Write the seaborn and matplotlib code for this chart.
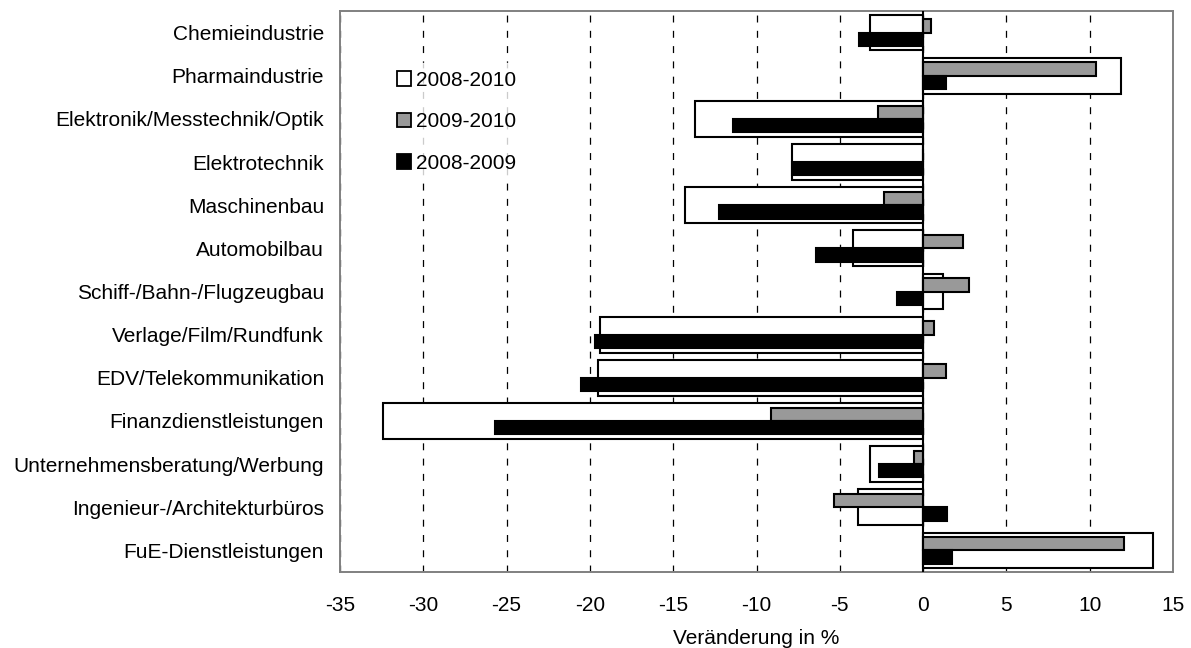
import pandas as pd
import numpy as np
import matplotlib
matplotlib.use("Agg")
import matplotlib.pyplot as plt
import seaborn as sns
from matplotlib.patches import Patch

# -------------------------------
# Data (Veränderung in %)
# -------------------------------
branchen = ["Chemieindustrie", "Pharmaindustrie", "Elektronik/Messtechnik/Optik",
            "Elektrotechnik", "Maschinenbau", "Automobilbau",
            "Schiff-/Bahn-/Flugzeugbau", "Verlage/Film/Rundfunk",
            "EDV/Telekommunikation", "Finanzdienstleistungen",
            "Unternehmensberatung/Werbung", "Ingenieur-/Architekturbüros",
            "FuE-Dienstleistungen"]
v_2008_2010 = [-3.2, 11.9, -13.7, -7.85, -14.3, -4.2, 1.2, -19.4, -19.5, -32.4, -3.2, -3.9, 13.8]
v_2009_2010 = [0.5, 10.4, -2.7, 0.0, -2.35, 2.4, 2.75, 0.65, 1.35, -9.15, -0.55, -5.35, 12.05]
v_2008_2009 = [-3.85, 1.35, -11.4, -7.85, -12.25, -6.45, -1.55, -19.7, -20.55, -25.7, -2.65, 1.45, 1.75]
perioden = ["2008-2010", "2009-2010", "2008-2009"]
x_ticks = list(range(-35, 20, 5))

df_total = pd.DataFrame({"branche": branchen, "wert": v_2008_2010})
df_sub = pd.DataFrame({
    "branche": branchen * 2,
    "wert": v_2009_2010 + v_2008_2009,
    "periode": [perioden[1]] * len(branchen) + [perioden[2]] * len(branchen),
})

# -------------------------------
# Plot
# -------------------------------
sns.set_style("white")
plt.rcParams["font.family"] = ["Liberation Sans", "DejaVu Sans"]
plt.rcParams["lines.scale_dashes"] = False
plt.rcParams["axes.unicode_minus"] = False
plt.rcParams["text.color"] = "black"
plt.rcParams["xtick.color"] = "black"
plt.rcParams["ytick.color"] = "black"
plt.rcParams["axes.labelcolor"] = "black"

fig = plt.figure(figsize=(11.91, 6.48), dpi=100)
ax = fig.add_axes([340 / 1191, 1 - 572 / 648, 833 / 1191, 561 / 648])

sns.barplot(data=df_total, x="wert", y="branche", orient="h", color="white",
            width=0.83, edgecolor="black", linewidth=1.5, errorbar=None, ax=ax)
sns.barplot(data=df_sub, x="wert", y="branche", hue="periode", orient="h",
            palette=["#999999", "black"], width=0.62, dodge=True, saturation=1,
            edgecolor="black", linewidth=1.5, errorbar=None, legend=False, ax=ax)

ax.axvline(0, color="black", lw=1.5, zorder=5)
ax.set_xlim(-35, 15)
ax.set_ylim(12.5, -0.5)
ax.set_xticks(x_ticks)
ax.set_axisbelow(True)
ax.xaxis.grid(True, color="black", lw=0.9, linestyle=(0, (5, 6)))
ax.yaxis.grid(False)

ax.tick_params(axis="both", length=0, labelsize=15)
ax.tick_params(axis="y", pad=11.5)
ax.tick_params(axis="x", pad=17)
ax.set_ylabel("")
ax.set_xlabel("Veränderung in %", fontsize=15, labelpad=10)

for sp in ax.spines.values():
    sp.set_color("#808080")
    sp.set_linewidth(1.4)

handles = [Patch(facecolor="white", edgecolor="black", lw=1.3),
           Patch(facecolor="#999999", edgecolor="black", lw=1.3),
           Patch(facecolor="black", edgecolor="black", lw=1.3)]
leg = ax.legend(handles, perioden, loc="upper left", bbox_to_anchor=(0.058, 0.908),
                borderaxespad=0, frameon=True, fontsize=15, handlelength=0.7,
                handleheight=0.7, handletextpad=0.25, labelspacing=1.07,
                borderpad=0.4, fancybox=False)
leg.get_frame().set_facecolor("white")
leg.get_frame().set_edgecolor("white")

fig.savefig("out.png", dpi=100)
